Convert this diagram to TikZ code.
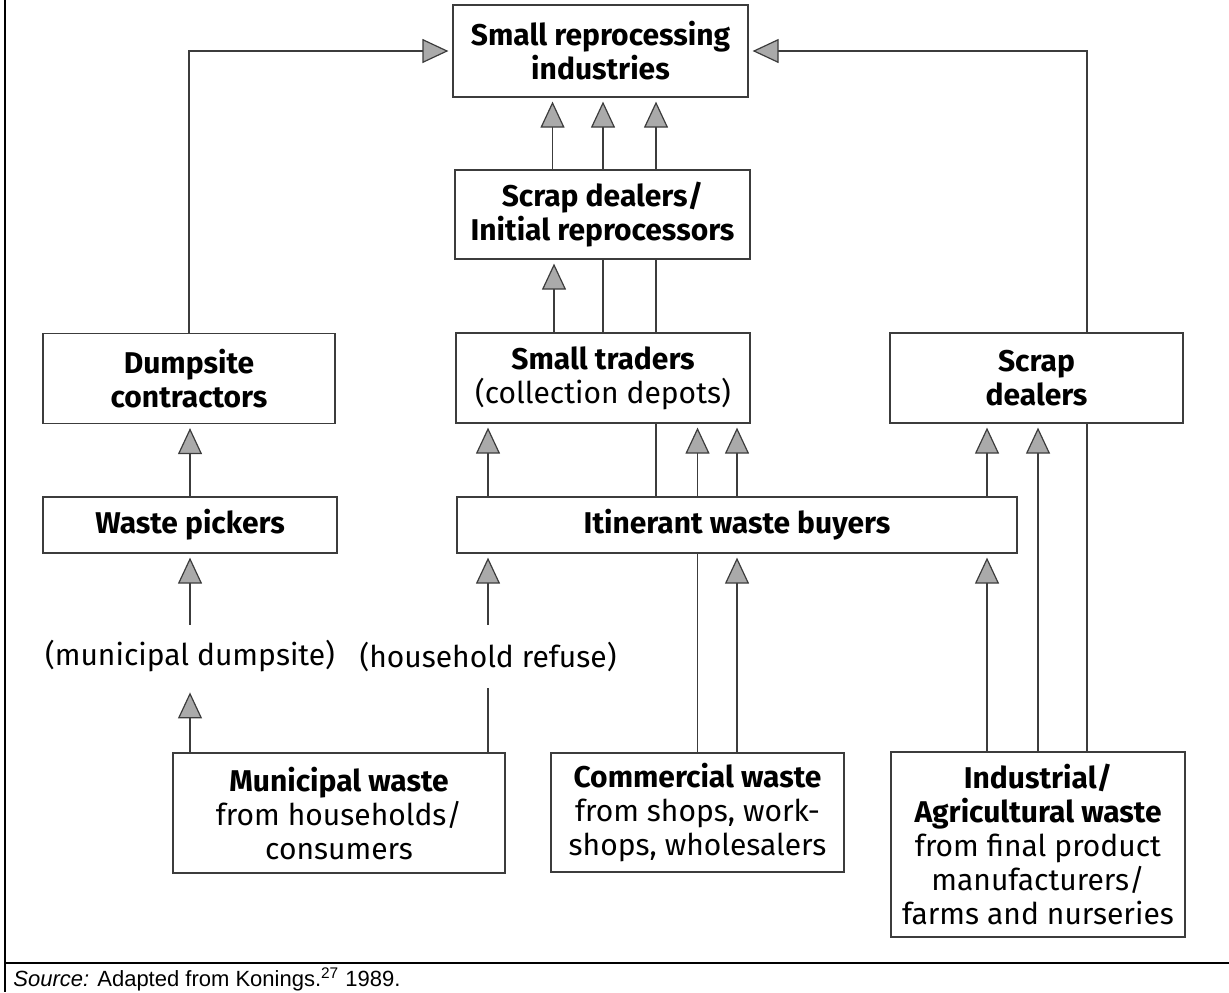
\documentclass[tikz,border=0pt]{standalone}
\usepackage{fontspec}
\setmainfont{Fira Sans}
\newfontfamily\arialfont{Liberation Sans}
\usetikzlibrary{arrows.meta,backgrounds}
\definecolor{linegray}{RGB}{60,60,60}
\definecolor{tipgray}{RGB}{170,170,170}

\begin{document}
\fontsize{15}{17}\selectfont
\begin{tikzpicture}[x=0.5pt,y=-0.5pt,inner sep=0pt]
\tikzstyle{box}=[rectangle, draw=linegray, line width=0.6pt, fill=white, align=center]
\tikzstyle{boldbox}=[box, font=\bfseries]
\tikzstyle{plain}=[align=center, minimum height=31.5pt]
\tikzstyle{connect}=[draw=linegray, line width=0.6pt, -{Triangle[length=13pt,width=12pt,fill=tipgray]}, shorten >=2pt]
\tikzstyle{pass}=[draw=linegray, line width=0.6pt]
\useasboundingbox (0,0) rectangle (1229,992);
% frame
\draw[line width=1.3pt] (5,0) -- (5,992);
\draw[line width=1.3pt] (5,963) -- (1229,963);
\node[anchor=base west, font=\arialfont\fontsize{11}{13}\selectfont] (source) at (13,986) {\textit{Source:} Adapted from Konings.\textsuperscript{27} 1989.};

\node[boldbox, minimum width=147.5pt, minimum height=46pt] (sri) at (600.5,51) {Small reprocessing\\industries};
\node[boldbox, minimum width=147.5pt, minimum height=44.5pt] (scrapinit) at (602.5,214.5) {Scrap dealers/\\Initial reprocessors};
\node[box, minimum width=147pt, minimum height=45pt] (traders) at (603,378) {\textbf{Small traders}\\(collection depots)};
\node[boldbox, minimum width=146pt, minimum height=45pt] (dumpcon) at (189,378.5) {Dumpsite\\contractors};
\node[boldbox, minimum width=146.5pt, minimum height=45pt] (scrapdl) at (1036.5,378) {Scrap\\dealers};
\node[boldbox, minimum width=147pt, minimum height=28pt] (pickers) at (190,525) {Waste pickers};
\node[boldbox, minimum width=280pt, minimum height=28pt] (buyers) at (737,525) {Itinerant waste buyers};
\node[plain] (dumpsite) at (190,656.5) {(municipal dumpsite)};
\node[plain] (refuse) at (488,656.5) {(household refuse)};
\node[box, minimum width=166pt, minimum height=60pt] (municipal) at (339,813) {\textbf{Municipal waste}\\from households/\\consumers};
\node[box, minimum width=146.5pt, minimum height=59.5pt] (commercial) at (697.5,812.5) {\textbf{Commercial waste}\\from shops, work-\\shops, wholesalers};
\node[box, minimum width=147pt, minimum height=92.5pt] (industrial) at (1038,844.5) {\textbf{Industrial/}\\\textbf{Agricultural waste}\\from final product\\manufacturers/\\farms and nurseries};

% flows that run behind other boxes
\begin{scope}[on background layer]
\draw[connect] ([xshift=24.5pt]industrial.north) |- (sri.east);
\draw[connect] (traders.north) -- (traders.north |- sri.south);
\draw[connect] ([xshift=-40.5pt]buyers.north) -- ([xshift=-40.5pt]buyers.north |- sri.south);
\draw[connect] (commercial.north) -- (commercial.north |- traders.south);
\end{scope}

\draw[connect] (dumpcon.north) |- (sri.west);
\draw[connect] ([xshift=-25pt]scrapinit.north) -- ([xshift=-25pt]scrapinit.north |- sri.south);
\draw[connect] ([xshift=-24.5pt]traders.north) -- ([xshift=-24.5pt]traders.north |- scrapinit.south);
\draw[connect] (pickers.north) -- (pickers.north |- dumpcon.south);
\draw[connect] (dumpsite.north) -- (dumpsite.north |- pickers.south);
\draw[connect] (dumpsite.south |- municipal.north) -- (dumpsite.south);
\draw[pass] (refuse.south |- municipal.north) -- (refuse.south);
\draw[connect] (refuse.north) -- (refuse.north |- buyers.south);
\draw[connect] (refuse.north |- buyers.north) -- (refuse.north |- traders.south);
\draw[connect] (buyers.north) -- (buyers.north |- traders.south);
\draw[connect] (buyers.south |- commercial.north) -- (buyers.south);
\draw[connect] ([xshift=-25.5pt]industrial.north) -- ([xshift=-25.5pt]industrial.north |- buyers.south);
\draw[connect] ([xshift=-25.5pt]industrial.north |- buyers.north) -- ([xshift=-25.5pt]industrial.north |- scrapdl.south);
\draw[connect] (industrial.north) -- (industrial.north |- scrapdl.south);
\end{tikzpicture}
\end{document}
